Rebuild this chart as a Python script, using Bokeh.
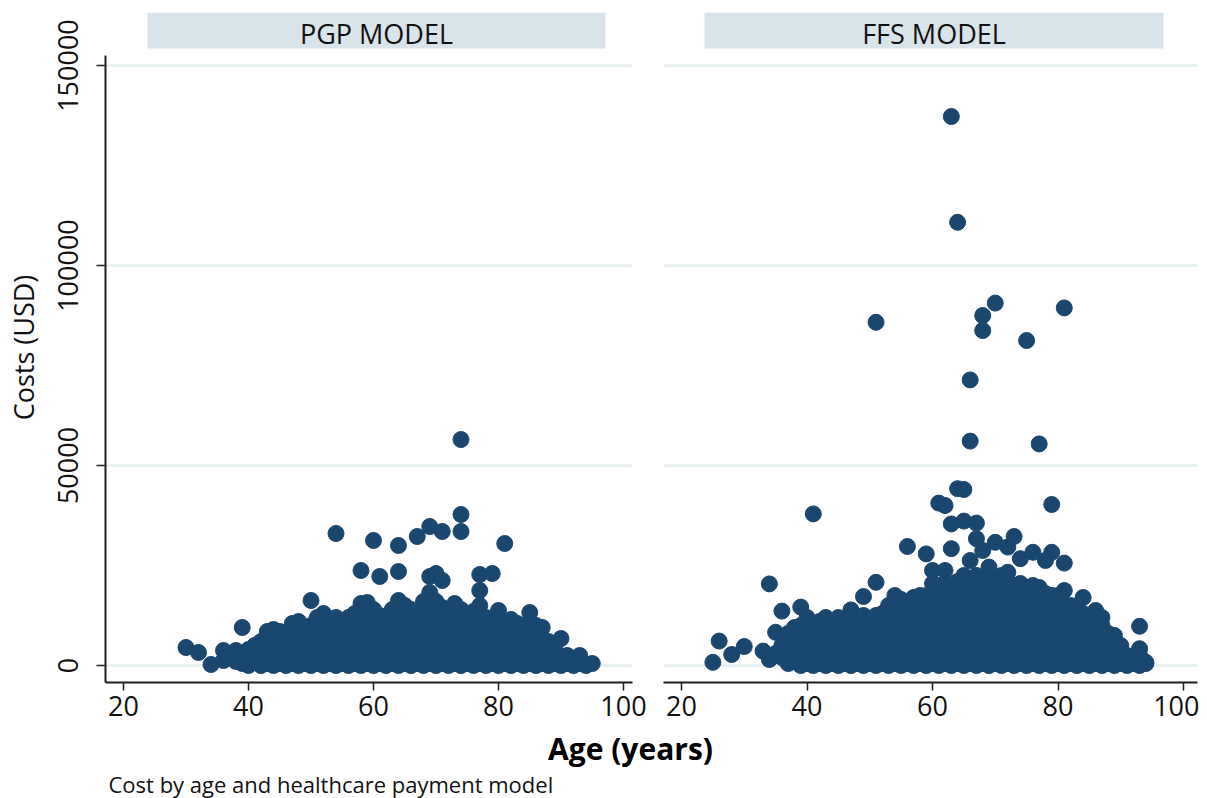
from bokeh.plotting import figure
from bokeh.layouts import column, row
from bokeh.models import Range1d, FixedTicker, NumeralTickFormatter, BoxAnnotation, Label
from bokeh.embed import file_html
from bokeh.resources import INLINE

# ---------------- data ----------------
panel_titles = ["PGP MODEL", "FFS MODEL"]
x_ticks = [20, 40, 60, 80, 100]
y_ticks = [0, 50000, 100000, 150000]

# PGP model: age -> costs (USD) of the patients plotted at that age
pgp_ages = [30, 32, 34, 36, 37, 38, 39, 40, 41, 42, 43, 44, 45, 46, 47, 48, 49, 50,
            51, 52, 53, 54, 55, 56, 57, 58, 59, 60, 61, 62, 63, 64, 65, 66, 67, 68,
            69, 70, 71, 72, 73, 74, 75, 76, 77, 78, 79, 80, 81, 82, 83, 84, 85, 86,
            87, 88, 89, 90, 91, 92, 93, 94, 95]
pgp_costs = [
    [4500], [3250], [250], [1250, 3750], [2000], [1000, 3750], [500, 2500, 9500],
    [0, 2000, 4000], [1000, 3000, 5000], [0, 2500, 4500, 6000],
    [500, 2500, 4500, 6500, 8500], [0, 2000, 4000, 6000, 8000, 9000],
    [500, 2500, 4500, 6500, 8500], [0, 2000, 4000, 6000, 8000],
    [500, 2500, 4500, 6500, 8500, 10500], [0, 2000, 4000, 6000, 8000, 11000],
    [500, 2500, 4500, 6500, 8500], [0, 2000, 4000, 6000, 8000, 10000, 16250],
    [500, 2500, 4500, 6500, 8500, 10500, 12000],
    [0, 2000, 4000, 6000, 8000, 10000, 13000],
    [500, 2500, 4500, 6500, 8500, 10500],
    [0, 2000, 4000, 6000, 8000, 10000, 12000, 33000],
    [500, 2500, 4500, 6500, 8500, 10500],
    [0, 2000, 4000, 6000, 8000, 10000, 12000],
    [500, 2500, 4500, 6500, 8500, 10500, 13000],
    [0, 2000, 4000, 6000, 8000, 10000, 12000, 15500, 23750],
    [500, 2500, 4500, 6500, 8500, 10500, 13000, 15750],
    [0, 2000, 4000, 6000, 8000, 10000, 12000, 14000, 31250],
    [500, 2500, 4500, 6500, 8500, 10500, 12500, 22250],
    [0, 2000, 4000, 6000, 8000, 10000, 12000],
    [500, 2500, 4500, 6500, 8500, 10500, 12500, 14000],
    [0, 2000, 4000, 6000, 8000, 10000, 12000, 14000, 16250, 23500, 30000],
    [500, 2500, 4500, 6500, 8500, 10500, 12500, 15000],
    [0, 2000, 4000, 6000, 8000, 10000, 12000, 14000],
    [500, 2500, 4500, 6500, 8500, 10500, 12500, 32250],
    [0, 2000, 4000, 6000, 8000, 10000, 12000, 14000, 16000],
    [500, 2500, 4500, 6500, 8500, 10500, 12500, 14500, 18250, 22250, 34750],
    [0, 2000, 4000, 6000, 8000, 10000, 12000, 14000, 16000, 23000],
    [500, 2500, 4500, 6500, 8500, 10500, 12500, 14500, 21250, 33500],
    [0, 2000, 4000, 6000, 8000, 10000, 12000, 14000],
    [500, 2500, 4500, 6500, 8500, 10500, 12500, 15500],
    [0, 2000, 4000, 6000, 8000, 10000, 12000, 14000, 33500, 37750, 56500],
    [500, 2500, 4500, 6500, 8500, 10500, 12500],
    [0, 2000, 4000, 6000, 8000, 10000, 12000, 13500],
    [500, 2500, 4500, 6500, 8500, 10500, 12500, 15000, 18750, 22750],
    [0, 2000, 4000, 6000, 8000, 10000, 12000],
    [500, 2500, 4500, 6500, 8500, 10500, 23000],
    [0, 2000, 4000, 6000, 8000, 10000, 12000, 13750],
    [500, 2500, 4500, 6500, 8500, 10500, 30500],
    [0, 2000, 4000, 6000, 8000, 10000, 11500],
    [500, 2500, 4500, 6500, 8500, 10500],
    [0, 2000, 4000, 6000, 8000, 10000],
    [500, 2500, 4500, 6500, 8500, 11000, 13250],
    [0, 2000, 4000, 6000, 8000, 10000],
    [500, 2500, 4500, 6500, 9500],
    [0, 2000, 4000, 6000],
    [500, 2500, 4500],
    [0, 2000, 6750],
    [500, 2500],
    [0, 1500],
    [500, 2500],
    [0],
    [500],
]

# FFS model: age -> costs (USD)
ffs_ages = [25, 26, 28, 30, 33, 34, 35, 36, 37, 38, 39, 40, 41, 42, 43, 44, 45, 46,
            47, 48, 49, 50, 51, 52, 53, 54, 55, 56, 57, 58, 59, 60, 61, 62, 63, 64,
            65, 66, 67, 68, 69, 70, 71, 72, 73, 74, 75, 76, 77, 78, 79, 80, 81, 82,
            83, 84, 85, 86, 87, 88, 89, 90, 91, 92, 93, 94]
ffs_costs = [
    [800], [6100], [2750], [4750], [3600], [1500, 20400], [3000, 8300],
    [2000, 5000, 13600], [500, 3000, 6000, 8000], [1000, 3500, 6500, 9500],
    [0, 2500, 5000, 7500, 10000, 14600], [500, 3000, 5500, 8000, 12000],
    [0, 2500, 5000, 7500, 10000, 37900], [500, 3000, 5500, 8000, 11000],
    [0, 2500, 5000, 7500, 10000, 12000], [500, 3000, 5500, 8000, 11000],
    [0, 2500, 5000, 7500, 10000, 12000], [500, 3000, 5500, 8000, 10500],
    [0, 2500, 5000, 7500, 10000, 13900], [500, 3000, 5500, 8000, 11000],
    [0, 2500, 5000, 7500, 10000, 12500, 17250], [500, 3000, 5500, 8000, 10500],
    [0, 2500, 5000, 7500, 10000, 12500, 20800, 85800],
    [500, 3000, 5500, 8000, 10500, 13000],
    [0, 2500, 5000, 7500, 10000, 12500, 15000],
    [500, 3000, 5500, 8000, 10500, 13000, 17500],
    [0, 2500, 5000, 7500, 10000, 12500, 15000, 16500],
    [500, 3000, 5500, 8000, 10500, 13000, 15500, 29750],
    [0, 2500, 5000, 7500, 10000, 12500, 15000, 17000],
    [500, 3000, 5500, 8000, 10500, 13000, 15500, 17500],
    [0, 2500, 5000, 7500, 10000, 12500, 15000, 17500, 27900],
    [500, 3000, 5500, 8000, 10500, 13000, 15500, 18000, 20500, 23750],
    [0, 2500, 5000, 7500, 10000, 12500, 15000, 17500, 20000, 40600],
    [500, 3000, 5500, 8000, 10500, 13000, 15500, 18000, 20500, 23750, 40000],
    [0, 2500, 5000, 7500, 10000, 12500, 15000, 17500, 20000, 29200, 35400, 137250],
    [500, 3000, 5500, 8000, 10500, 13000, 15500, 18000, 21000, 44200, 110800],
    [0, 2500, 5000, 7500, 10000, 12500, 15000, 17500, 20000, 22500, 36100, 44000],
    [500, 3000, 5500, 8000, 10500, 13000, 15500, 18000, 21000, 26250, 56100, 71400],
    [0, 2500, 5000, 7500, 10000, 12500, 15000, 17500, 20000, 22500, 31700, 35600],
    [500, 3000, 5500, 8000, 10500, 13000, 15500, 18000, 20500, 28750, 83750, 87500],
    [0, 2500, 5000, 7500, 10000, 12500, 15000, 17500, 20000, 22000, 24600],
    [500, 3000, 5500, 8000, 10500, 13000, 15500, 18000, 20500, 30800, 90600],
    [0, 2500, 5000, 7500, 10000, 12500, 15000, 17500, 20000, 22500],
    [500, 3000, 5500, 8000, 10500, 13000, 15500, 18000, 20500, 23300, 29600],
    [0, 2500, 5000, 7500, 10000, 12500, 15000, 17500, 20000, 32250],
    [500, 3000, 5500, 8000, 10500, 13000, 15500, 18000, 20500, 26700],
    [0, 2500, 5000, 7500, 10000, 12500, 15000, 17500, 19500, 81250],
    [500, 3000, 5500, 8000, 10500, 13000, 15500, 18000, 20000, 28300],
    [0, 2500, 5000, 7500, 10000, 12500, 15000, 17500, 19500, 55400],
    [500, 3000, 5500, 8000, 10500, 13000, 15500, 18000, 26250],
    [0, 2500, 5000, 7500, 10000, 12500, 15000, 17500, 28300, 40250],
    [500, 3000, 5500, 8000, 10500, 13000, 15500, 17500],
    [0, 2500, 5000, 7500, 10000, 12500, 15000, 18750, 25600, 89400],
    [500, 3000, 5500, 8000, 10500, 13000, 15000],
    [0, 2500, 5000, 7500, 10000, 12500, 14500],
    [500, 3000, 5500, 8000, 10500, 13000, 17000],
    [0, 2500, 5000, 7500, 10000, 12000],
    [500, 3000, 5500, 8000, 10500, 13750],
    [0, 2500, 5000, 7500, 10000, 12000],
    [500, 3000, 5500, 8000],
    [0, 2500, 5000, 7500],
    [500, 3000, 5000],
    [0, 2500],
    [500, 2000],
    [0, 2500, 4200, 9800],
    [500, 800],
]

# ---------------- styling ----------------
NAVY = "#1a476f"
STRIP = "#d9e4ea"
GRID = "#e4eef0"
AXIS = "#1e1e1e"
FONT = "Open Sans"


def flatten(ages, costs):
    xs, ys = [], []
    for a, cs in zip(ages, costs):
        for c in cs:
            xs.append(a)
            ys.append(c)
    return xs, ys


Y_LO, Y_HI = -4250, 163250
STRIP_BOTTOM, STRIP_MID = 154250, 158000


def panel(title, ages, costs, x_range, border_left, frame_w, border_right, strip_lr, show_y):
    p = figure(frame_width=frame_w, frame_height=670,
               min_border_left=border_left, min_border_right=border_right,
               min_border_top=12, min_border_bottom=44,
               x_range=x_range, y_range=Range1d(Y_LO, Y_HI),
               output_backend="svg", toolbar_location=None,
               background_fill_color="white", border_fill_color="white")
    p.outline_line_color = None
    p.xgrid.visible = False
    p.ygrid.ticker = FixedTicker(ticks=y_ticks)
    p.ygrid.grid_line_color = GRID
    p.ygrid.grid_line_width = 2.5

    xa = p.xaxis[0]
    xa.ticker = FixedTicker(ticks=x_ticks)
    xa.axis_line_color = AXIS
    xa.axis_line_width = 2
    xa.major_tick_line_color = AXIS
    xa.major_tick_line_width = 1.5
    xa.major_tick_out = 8
    xa.major_tick_in = 0
    xa.minor_tick_line_color = None
    xa.major_label_standoff = 5
    xa.major_label_text_font = FONT
    xa.major_label_text_font_size = "27px"
    xa.major_label_text_color = "#111111"

    ya = p.yaxis[0]
    ya.ticker = FixedTicker(ticks=y_ticks)
    ya.formatter = NumeralTickFormatter(format="0")
    if show_y:
        ya.bounds = (Y_LO, 152500)
        ya.axis_line_color = AXIS
        ya.axis_line_width = 2
        ya.major_tick_line_color = AXIS
        ya.major_tick_line_width = 1.5
        ya.major_tick_out = 9
        ya.major_tick_in = 0
        ya.minor_tick_line_color = None
        ya.major_label_orientation = "vertical"
        ya.major_label_standoff = 19
        ya.major_label_text_font = FONT
        ya.major_label_text_font_size = "27px"
        ya.major_label_text_color = "#111111"
        ya.axis_label = "Costs (USD)"
        ya.axis_label_text_font = FONT
        ya.axis_label_text_font_size = "27px"
        ya.axis_label_text_font_style = "normal"
        ya.axis_label_text_color = "#111111"
        ya.axis_label_standoff = 13
    else:
        ya.visible = False

    xs, ys = flatten(ages, costs)
    p.scatter(xs, ys, marker="circle", size=16, fill_color=NAVY, line_color=NAVY,
              line_width=1)

    left, right = strip_lr
    p.add_layout(BoxAnnotation(left=left, right=right, bottom=STRIP_BOTTOM, top=Y_HI,
                               fill_color=STRIP, fill_alpha=1, line_color=None))
    p.add_layout(Label(x=(left + right) / 2, y=STRIP_MID, text=title,
                       text_align="center", text_baseline="middle",
                       text_font=FONT, text_font_size="27px", text_color="#111111"))
    return p


p1 = panel(panel_titles[0], pgp_ages, pgp_costs, Range1d(17.12, 101.44),
           105, 527, 16, (23.84, 97.12), True)
p2 = panel(panel_titles[1], ffs_ages, ffs_costs, Range1d(17.13, 102.23),
           15, 534, 2, (23.67, 96.81), False)

W, H = 1199, 72
pb = figure(frame_width=W, frame_height=H, min_border=0,
            x_range=Range1d(0, W), y_range=Range1d(H, 0),
            x_axis_location=None, y_axis_location=None,
            output_backend="svg", toolbar_location=None,
            border_fill_color="white")
pb.outline_line_color = None
pb.grid.visible = False
pb.add_layout(Label(x=630, y=22, text="Age (years)", text_align="center",
                    text_baseline="middle", text_font=FONT, text_font_size="30px",
                    text_font_style="bold", text_color="#000000"))
pb.add_layout(Label(x=108, y=57, text="Cost by age and healthcare payment model",
                    text_align="left", text_baseline="middle", text_font=FONT,
                    text_font_size="22px", text_color="#111111"))

layout = column(row(p1, p2, spacing=0), pb, spacing=0)
open("out.html", "w").write(file_html(layout, INLINE))
